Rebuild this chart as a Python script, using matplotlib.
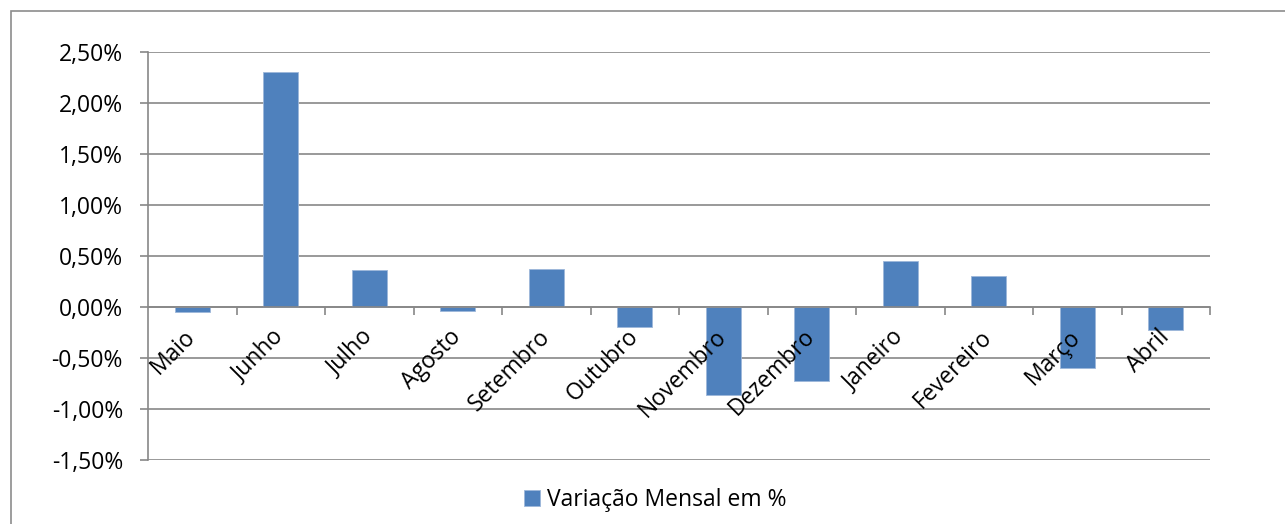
import numpy as np
import matplotlib
matplotlib.use('Agg')
import matplotlib.pyplot as plt
from matplotlib.ticker import FuncFormatter, FixedLocator
from matplotlib.patches import Rectangle

# variação mensal (%)
meses = ['Maio', 'Junho', 'Julho', 'Agosto', 'Setembro', 'Outubro',
         'Novembro', 'Dezembro', 'Janeiro', 'Fevereiro', 'Março', 'Abril']
variacao = [-0.05, 2.30, 0.36, -0.04, 0.37, -0.20,
            -0.86, -0.73, 0.45, 0.30, -0.60, -0.23]
y_ticks = [-1.5, -1.0, -0.5, 0.0, 0.5, 1.0, 1.5, 2.0, 2.5]
legenda = 'Variação Mensal em %'

plt.rcParams['font.family'] = ['Open Sans', 'DejaVu Sans']
cinza = '#878787'
azul = '#4F81BD'

fig = plt.figure(figsize=(12.85, 5.24), dpi=100)
ax = fig.add_axes([148/1285, 1-460/524, (1210-148)/1285, (460-52)/524])

x = np.arange(len(meses))
# linhas de grade por baixo das barras, rótulos por cima
for v in y_ticks:
    ax.axhline(v, color=cinza, linewidth=1.2, zorder=0.5)
bars = ax.bar(x, variacao, width=0.4, color=azul, edgecolor='#9DB7DA', linewidth=0.6,
              label=legenda, zorder=2)
ax.set_axisbelow(False)

ax.set_xlim(-0.5, len(meses) - 0.5)
ax.set_ylim(-1.5, 2.5)
ax.set_yticks(y_ticks)
ax.yaxis.set_major_formatter(FuncFormatter(lambda v, p: ('%.2f%%' % v).replace('.', ',')))

for s in ['top', 'right']:
    ax.spines[s].set_visible(False)
ax.spines['left'].set_color(cinza)
ax.spines['left'].set_linewidth(1.2)
ax.spines['bottom'].set_position(('data', 0))
ax.spines['bottom'].set_color(cinza)
ax.spines['bottom'].set_linewidth(1.2)

ax.set_xticks(x)
ax.set_xticklabels(meses, rotation=45, ha='right', va='center', rotation_mode='anchor')
ax.xaxis.set_minor_locator(FixedLocator(np.arange(0.5, len(meses), 1.0)))
ax.tick_params(axis='x', which='major', length=0, pad=19, labelsize=16.5)
ax.tick_params(axis='x', which='minor', length=6, width=1.2, color=cinza, direction='out')
ax.tick_params(axis='y', length=6, width=1.2, color=cinza, labelsize=16.5, pad=12)

fig.legend(handles=[bars], labels=[legenda], loc='center', bbox_to_anchor=(655/1285, 1-500/524),
           frameon=False, fontsize=16.5, handlelength=0.7, handleheight=0.7, handletextpad=0.3)

fig.patches.append(Rectangle((10.5/1285, -0.1), 1.2, 1.1 - 11.5/524, transform=fig.transFigure,
                             fill=False, edgecolor='#8C8C8C', linewidth=1.2))

fig.savefig('out.png', dpi=100)
